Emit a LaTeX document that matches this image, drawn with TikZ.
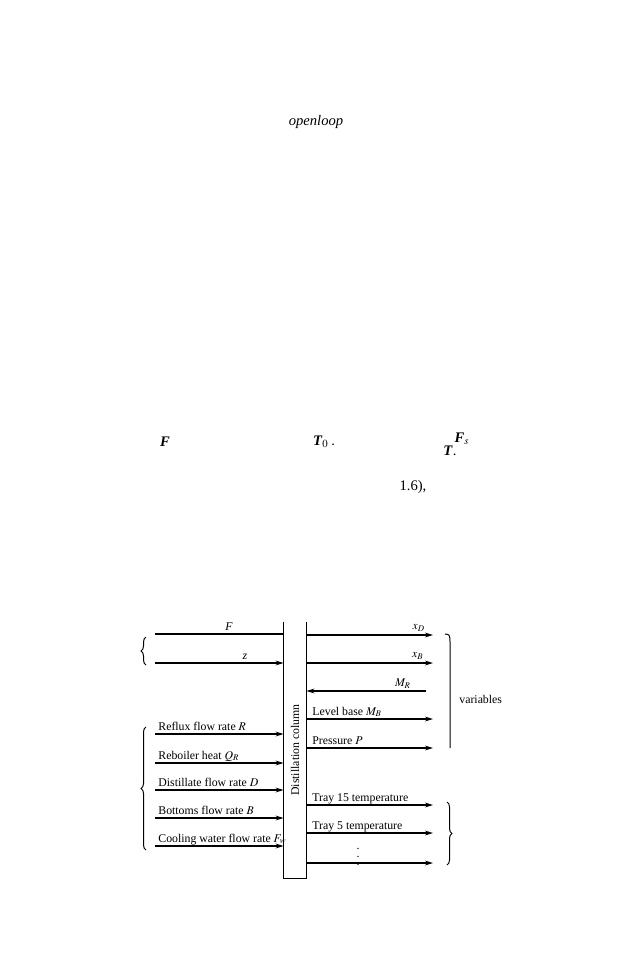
\documentclass[tikz,border=0pt]{standalone}
\usepackage{mathptmx}
\usepackage[no-math]{fontspec}
\setmainfont{Liberation Serif}
\usetikzlibrary{arrows.meta,decorations.pathreplacing}

\begin{document}
\begin{tikzpicture}[
        x=0.5pt, y=-0.5pt,
        every node/.style={inner sep=0pt, font=\fontsize{5.9}{7}\selectfont},
        flow/.style={line width=0.9pt, -{Stealth[length=4pt,width=2.4pt]}},
        plain/.style={line width=0.9pt},
        lbl/.style={anchor=base west},
        brc/.style={decorate, decoration={brace, amplitude=2.5pt}, line width=0.5pt},
        page/.style={font=\fontsize{7.3}{8.8}\selectfont}]
    \useasboundingbox (0,0) rectangle (632,974);
    % bits of the page text that survived
    \node[page] (openloop) at (316,122) {\textit{openloop}};
    \node[page] (pf) at (165,442) {\textbf{\textit{F}}};
    \node[page] (pt0) at (324,442) {\textbf{\textit{T}}$_0$\,.};
    \node[page] (pfs) at (462,439) {\textbf{\textit{F}}$_s$};
    \node[page] (pt) at (450,451) {\textbf{\textit{T}}.};
    \node[page] (peq) at (413,487) {1.6),};
    % the column
    \node[minimum width=11pt, minimum height=128pt] (col) at (295,750) {};
    \draw[line width=0.6pt] (col.north west) -- (col.south west) -- (col.south east) -- (col.north east);
    \node[rotate=90] (coltext) at (col.center) {Distillation column};
    % loads
    \coordinate (fin) at (155,634);
    \coordinate (zin) at (155,663);
    \draw[plain] (fin) -- (fin -| col.west);
    \draw[flow] (zin) -- (zin -| col.west);
    \node (flab) at (229,627) {\textit{F}};
    \node (zlab) at (245,657) {\textit{z}};
    % manipulated inputs
    \coordinate (rin) at (155,734);
    \coordinate (qin) at (155,763);
    \coordinate (din) at (155,790);
    \coordinate (bin) at (155,818);
    \coordinate (fwin) at (155,846);
    \draw[flow] (rin) -- (rin -| col.west);
    \draw[flow] (qin) -- (qin -| col.west);
    \draw[flow] (din) -- (din -| col.west);
    \draw[flow] (bin) -- (bin -| col.west);
    \draw[flow] (fwin) -- (fwin -| col.west);
    \node[lbl] (rlab) at (158,730) {Reflux flow rate $R$};
    \node[lbl] (qlab) at (158,759) {Reboiler heat $Q_R$};
    \node[lbl] (dlab) at (158,786) {Distillate flow rate $D$};
    \node[lbl] (blab) at (158,814) {Bottoms flow rate $B$};
    \node[lbl] (fwlab) at (158,842) {Cooling water flow rate $F_w$};
    % controlled outputs
    \coordinate (xdout) at (433,635);
    \coordinate (xbout) at (433,663);
    \coordinate (mrout) at (426,691);
    \coordinate (mbout) at (433,719);
    \coordinate (pout) at (433,748);
    \draw[flow] (col.east |- xdout) -- (xdout);
    \draw[flow] (col.east |- xbout) -- (xbout);
    \draw[flow] (mrout) -- (mrout -| col.east);
    \draw[flow] (col.east |- mbout) -- (mbout);
    \draw[flow] (col.east |- pout) -- (pout);
    \node (xdlab) at (419,628) {$x_D$};
    \node (xblab) at (418,656) {$x_B$};
    \node (mrlab) at (403,684) {$M_R$};
    \node[lbl] (mblab) at (312,715) {Level base $M_B$};
    \node[lbl] (plab) at (312,744) {Pressure $P$};
    % other outputs
    \coordinate (t15out) at (433,805);
    \coordinate (t5out) at (433,833);
    \coordinate (lastout) at (433,863);
    \draw[flow] (col.east |- t15out) -- (t15out);
    \draw[flow] (col.east |- t5out) -- (t5out);
    \draw[flow] (col.east |- lastout) -- (lastout);
    \node[lbl] (t15lab) at (312,801) {Tray 15 temperature};
    \node[lbl] (t5lab) at (312,829) {Tray 5 temperature};
    \node (dots) at (358,851) {$\vdots$};
    % braces
    \draw[brc] (146,665) -- (146,637);
    \draw[brc] (146,850) -- (146,727);
    \draw[brc] (447,802) -- (447,865);
    \draw[line width=0.5pt] (445,634) .. controls (450,634) and (450,636) .. (450,643) -- (450,748);
    \node[anchor=west] (varlab) at (459,699) {variables};
\end{tikzpicture}
\end{document}
